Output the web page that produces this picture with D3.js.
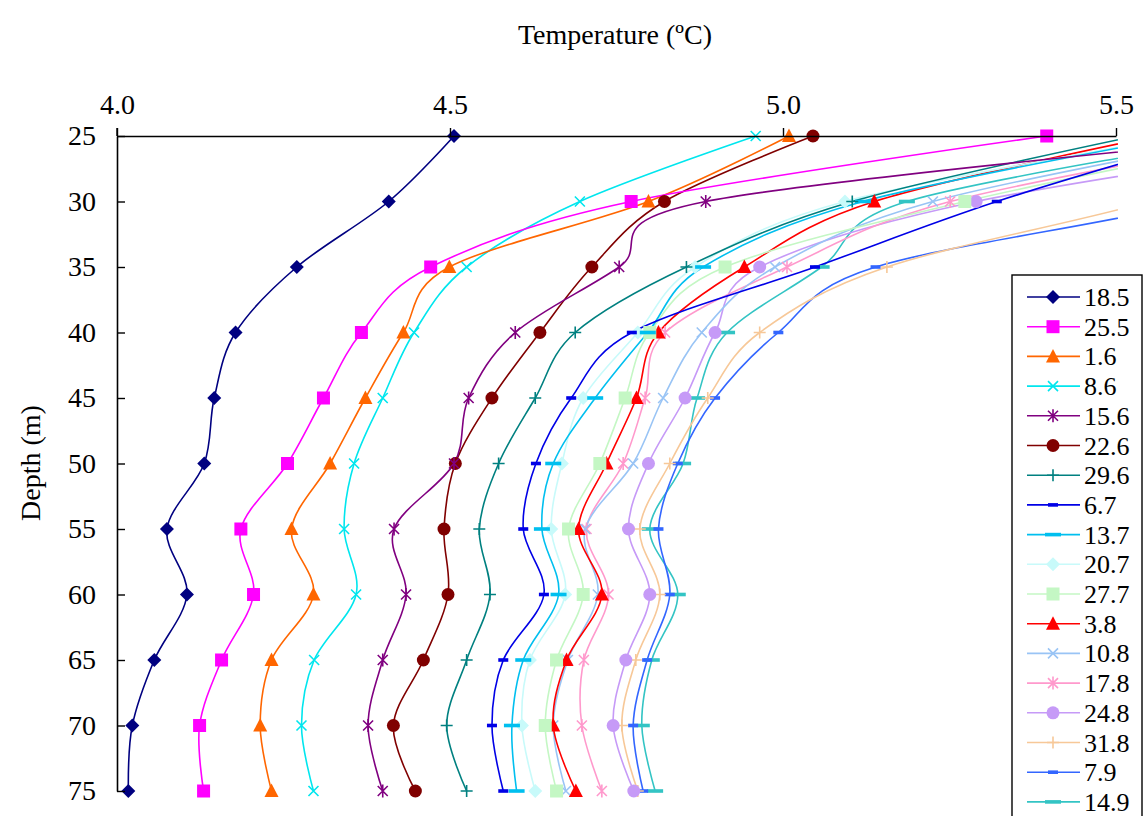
<!DOCTYPE html>
<html>
<head>
<meta charset="utf-8">
<script src="https://cdn.jsdelivr.net/npm/d3@7"></script>
<style>
  html, body { margin: 0; padding: 0; background: #fff; }
  svg { display: block; }
  text { font-family: "Liberation Serif", "Times New Roman", serif; fill: #000; }
</style>
</head>
<body>
<svg id="chart" width="1144" height="816"></svg>
<script>
// Depth levels (m) at which temperature was sampled
const depths = [25, 30, 35, 40, 45, 50, 55, 60, 65, 70, 75];

// Temperature profiles (°C), one array per sampling date
const p18_5 = [4.506, 4.408, 4.270, 4.178, 4.146, 4.131, 4.075, 4.105, 4.056, 4.023, 4.017];
const p25_5 = [5.396, 4.772, 4.471, 4.367, 4.310, 4.256, 4.186, 4.205, 4.157, 4.124, 4.130];
const p1_6  = [5.009, 4.798, 4.499, 4.430, 4.373, 4.320, 4.262, 4.295, 4.232, 4.215, 4.232];
const p8_6  = [4.959, 4.695, 4.525, 4.446, 4.399, 4.356, 4.341, 4.359, 4.296, 4.277, 4.295];
const p15_6 = [5.750, 4.884, 4.754, 4.598, 4.528, 4.506, 4.416, 4.434, 4.399, 4.377, 4.399];
const p22_6 = [5.045, 4.822, 4.713, 4.635, 4.563, 4.508, 4.491, 4.497, 4.460, 4.415, 4.448];
const p29_6 = [5.530, 5.104, 4.855, 4.688, 4.628, 4.573, 4.544, 4.560, 4.525, 4.495, 4.525];
const p6_7  = [5.650, 5.321, 5.048, 4.773, 4.682, 4.629, 4.610, 4.641, 4.580, 4.563, 4.580];
const p13_7 = [5.600, 5.120, 4.880, 4.797, 4.718, 4.655, 4.638, 4.663, 4.610, 4.593, 4.600];
const p20_7 = [5.600, 5.093, 4.868, 4.782, 4.700, 4.668, 4.652, 4.673, 4.620, 4.608, 4.628];
const p27_7 = [5.750, 5.273, 4.913, 4.800, 4.763, 4.725, 4.678, 4.700, 4.660, 4.643, 4.660];
const p3_8  = [5.560, 5.137, 4.942, 4.813, 4.780, 4.735, 4.693, 4.728, 4.675, 4.655, 4.689];
const p10_8 = [5.700, 5.225, 4.988, 4.878, 4.820, 4.775, 4.703, 4.722, 4.677, 4.655, 4.674];
const p17_8 = [5.750, 5.251, 5.006, 4.823, 4.793, 4.760, 4.705, 4.738, 4.701, 4.698, 4.728];
const p24_8 = [5.900, 5.290, 4.965, 4.898, 4.853, 4.798, 4.768, 4.800, 4.764, 4.745, 4.776];
const p31_8 = [5.850, 5.550, 5.156, 4.965, 4.887, 4.830, 4.785, 4.815, 4.779, 4.758, 4.782];
const p7_9  = [5.900, 5.620, 5.139, 4.993, 4.898, 4.842, 4.813, 4.830, 4.796, 4.775, 4.790];
const p14_9 = [5.700, 5.186, 5.058, 4.916, 4.871, 4.850, 4.800, 4.842, 4.803, 4.788, 4.808];

const seriesNames = ["18.5", "25.5", "1.6", "8.6", "15.6", "22.6", "29.6", "6.7", "13.7",
                     "20.7", "27.7", "3.8", "10.8", "17.8", "24.8", "31.8", "7.9", "14.9"];
const seriesValues = [p18_5, p25_5, p1_6, p8_6, p15_6, p22_6, p29_6, p6_7, p13_7,
                      p20_7, p27_7, p3_8, p10_8, p17_8, p24_8, p31_8, p7_9, p14_9];

const xTicks = [4.0, 4.5, 5.0, 5.5];
const yTicks = [25, 30, 35, 40, 45, 50, 55, 60, 65, 70, 75];

// Styling per series
const colors = ["#000080", "#FF00FF", "#FF6600", "#00E6EE", "#800080", "#800000", "#008080",
                "#0000E6", "#00BFEF", "#C8FAFA", "#C4F7C4", "#FF0000", "#99C4F5", "#FF99CC",
                "#C69AF7", "#F7C898", "#3366FF", "#33C4C4"];
const markers = ["diamond", "square", "triangle", "x", "star", "circle", "plus", "dash", "longdash",
                 "diamond", "square", "triangle", "x", "star", "circle", "plus", "dash", "longdash"];

const svg = d3.select("#chart");
const plotLeft = 117, plotRight = 1116, plotTop = 136, plotBottom = 791;

const x = d3.scaleLinear().domain([4.0, 5.5]).range([plotLeft, plotRight]);
const y = d3.scaleLinear().domain([25, 75]).range([plotTop, plotBottom]);

svg.append("defs").append("clipPath").attr("id", "plotClip")
  .append("rect").attr("x", plotLeft).attr("y", 128)
  .attr("width", plotRight - plotLeft + 2).attr("height", 680);

function drawMarker(g, type, color) {
  switch (type) {
    case "diamond":
      g.append("path").attr("d", "M0,-7L7,0L0,7L-7,0Z").attr("fill", color); break;
    case "square":
      g.append("rect").attr("x", -6.5).attr("y", -6.5).attr("width", 13).attr("height", 13).attr("fill", color); break;
    case "triangle":
      g.append("path").attr("d", "M0,-7.5L7,6L-7,6Z").attr("fill", color); break;
    case "x":
      g.append("path").attr("d", "M-5,-5L5,5M-5,5L5,-5").attr("stroke", color).attr("stroke-width", 1.6).attr("fill", "none"); break;
    case "star":
      g.append("path").attr("d", "M-5,-5L5,5M-5,5L5,-5M0,-6.5L0,6.5").attr("stroke", color).attr("stroke-width", 1.6).attr("fill", "none"); break;
    case "circle":
      g.append("circle").attr("r", 6.5).attr("fill", color); break;
    case "plus":
      g.append("path").attr("d", "M-6,0L6,0M0,-6L0,6").attr("stroke", color).attr("stroke-width", 1.6).attr("fill", "none"); break;
    case "dash":
      g.append("rect").attr("x", -5).attr("y", -1.8).attr("width", 10).attr("height", 3.6).attr("fill", color); break;
    case "longdash":
      g.append("rect").attr("x", -8).attr("y", -1.8).attr("width", 16).attr("height", 3.6).attr("fill", color); break;
  }
}

const line = d3.line()
  .x(d => x(d.t))
  .y(d => y(d.depth))
  .curve(d3.curveCardinal.tension(0));

// Profiles (lines), drawn from the last series to the first so early series sit on top
const plot = svg.append("g").attr("clip-path", "url(#plotClip)");
const order = d3.range(seriesNames.length).reverse();
order.forEach(i => {
  const pts = depths.map((dep, k) => ({ depth: dep, t: seriesValues[i][k] }));
  plot.append("path")
    .datum(pts)
    .attr("d", line)
    .attr("fill", "none")
    .attr("stroke", colors[i])
    .attr("stroke-width", 1.6);
});
order.forEach(i => {
  depths.forEach((dep, k) => {
    const t = seriesValues[i][k];
    if (t > 5.5) return;
    const g = plot.append("g").attr("transform", `translate(${x(t)},${y(dep)})`);
    drawMarker(g, markers[i], colors[i]);
  });
});

// Axes
const xAxis = d3.axisTop(x).tickValues(xTicks).tickFormat(d3.format(".1f"))
  .tickSize(8).tickSizeOuter(0).tickPadding(14);
const gx = svg.append("g").attr("transform", `translate(0,${plotTop})`).call(xAxis);
gx.select(".domain").attr("stroke", "#000").attr("stroke-width", 1.6);
gx.selectAll(".tick line").attr("stroke", "#000").attr("stroke-width", 1.4);
gx.selectAll(".tick text").attr("font-size", 28).attr("font-family", "Liberation Serif");

const yAxis = d3.axisLeft(y).tickValues(yTicks).tickFormat(d3.format("d"))
  .tickSize(-8).tickSizeOuter(0).tickPadding(21);
const gy = svg.append("g").attr("transform", `translate(${plotLeft},0)`).call(yAxis);
gy.select(".domain").attr("stroke", "#000").attr("stroke-width", 1.6);
gy.selectAll(".tick line").attr("stroke", "#000").attr("stroke-width", 1.4);
gy.selectAll(".tick text").attr("font-size", 28).attr("font-family", "Liberation Serif");
// extend the left axis up to the top tick height
svg.append("line").attr("x1", plotLeft).attr("x2", plotLeft).attr("y1", plotTop - 8).attr("y2", plotTop)
  .attr("stroke", "#000").attr("stroke-width", 1.4);

// Axis titles
svg.append("text").attr("x", 615).attr("y", 44).attr("text-anchor", "middle")
  .attr("font-size", 28).text("Temperature (ºC)");
svg.append("text").attr("transform", "translate(40,463) rotate(-90)").attr("text-anchor", "middle")
  .attr("font-size", 28).text("Depth (m)");

// Legend
const legend = svg.append("g");
legend.append("rect").attr("x", 1012).attr("y", 275).attr("width", 130).attr("height", 560)
  .attr("fill", "#fff").attr("stroke", "#000").attr("stroke-width", 1.4);
seriesNames.forEach((name, i) => {
  const ly = 297 + i * 29.7;
  legend.append("line").attr("x1", 1027).attr("x2", 1080).attr("y1", ly).attr("y2", ly)
    .attr("stroke", colors[i]).attr("stroke-width", 1.6);
  const g = legend.append("g").attr("transform", `translate(1053,${ly})`);
  drawMarker(g, markers[i], colors[i]);
  legend.append("text").attr("x", 1084).attr("y", ly + 9).attr("font-size", 26).text(name);
});
</script>
</body>
</html>
